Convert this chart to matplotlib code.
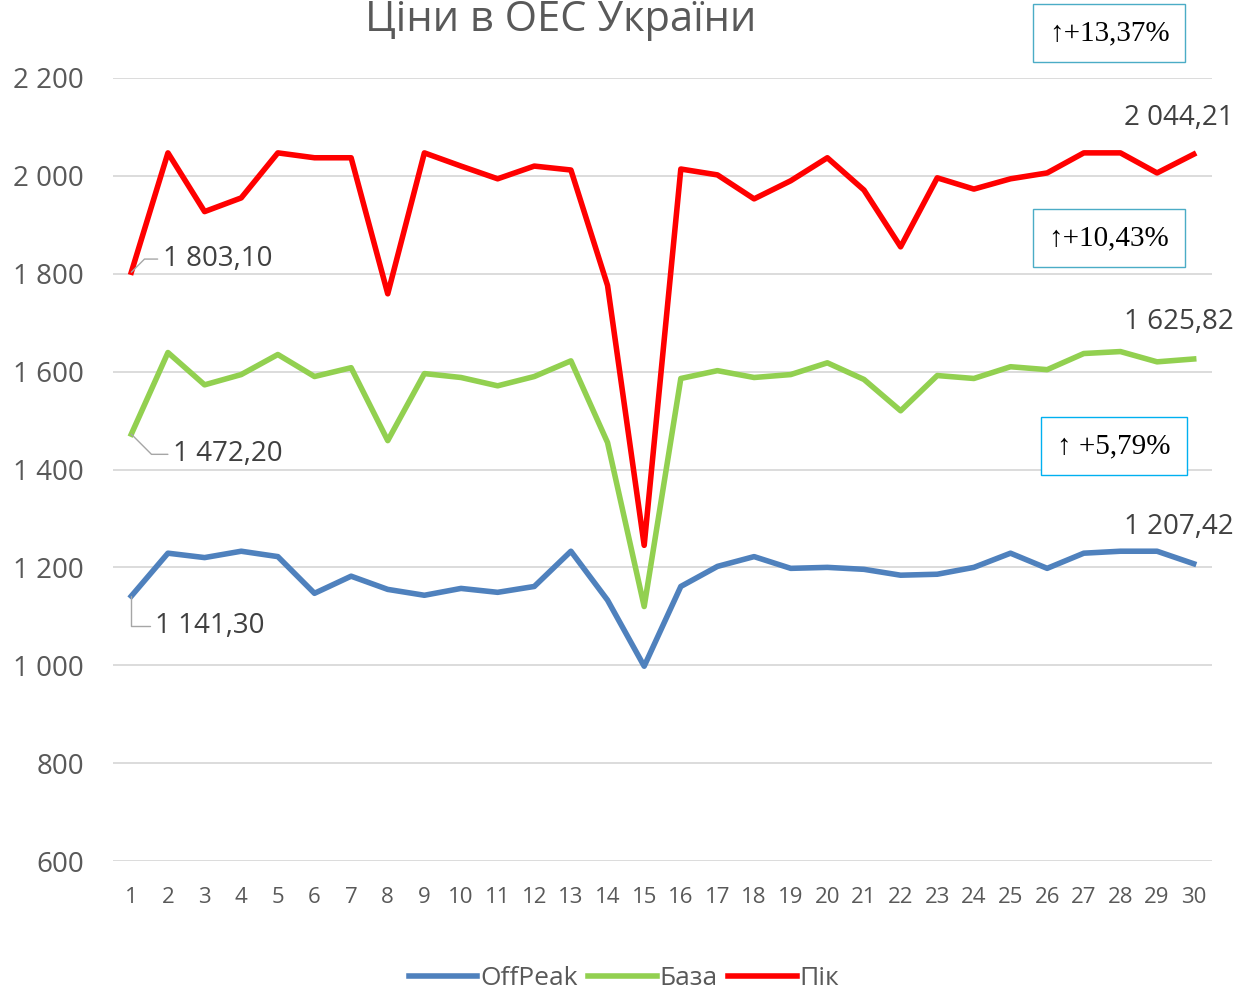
import matplotlib.pyplot as plt
import numpy as np

days = list(range(1, 31))

offpeak = [1141.30, 1229, 1220, 1233, 1222, 1147, 1182, 1155, 1143, 1157,
           1149, 1161, 1233, 1133, 998, 1161, 1202, 1222, 1198, 1200,
           1196, 1184, 1186, 1200, 1229, 1198, 1229, 1233, 1233, 1207.42]
baza = [1472.20, 1639, 1573, 1594, 1635, 1590, 1608, 1459, 1596, 1588,
        1571, 1590, 1622, 1455, 1120, 1586, 1602, 1588, 1594, 1618,
        1584, 1520, 1592, 1586, 1610, 1604, 1637, 1641, 1620, 1625.82]
pik = [1803.10, 2047, 1927, 1955, 2047, 2037, 2037, 1759, 2047, 2020,
       1994, 2020, 2012, 1776, 1245, 2014, 2002, 1953, 1990, 2037,
       1971, 1855, 1996, 1973, 1994, 2006, 2047, 2047, 2006, 2044.21]

series_names = ['OffPeak', 'База', 'Пік']
growth = ['↑+13,37%', '↑+10,43%', '↑ +5,79%']

def fmt(v):
    s = '{:,.2f}'.format(v)
    return s.replace(',', ' ').replace('.', ',')

plt.rcParams['font.family'] = ['Open Sans', 'DejaVu Sans']

fig = plt.figure(figsize=(12.4, 9.9), dpi=100)
ax = fig.add_axes([113/1240, 1 - 861/990, (1212-113)/1240, (861-78)/990])

ax.plot(days, offpeak, color='#4f81bd', lw=4, label=series_names[0], solid_joinstyle='round')
ax.plot(days, baza, color='#92d050', lw=4, label=series_names[1], solid_joinstyle='round')
ax.plot(days, pik, color='#ff0000', lw=4, label=series_names[2], solid_joinstyle='round')

ax.set_xlim(0.5, 30.5)
ax.set_ylim(600, 2200)
yt = np.arange(600, 2201, 200)
ax.set_yticks(yt)
ax.set_yticklabels([fmt(v)[:-3] for v in yt])
ax.set_xticks(days)
ax.grid(axis='y', color='#d9d9d9', lw=1.3)
ax.set_axisbelow(True)
for sp in ax.spines.values():
    sp.set_visible(False)
ax.tick_params(axis='y', length=0, labelsize=20, colors='#595959', pad=21)
ax.tick_params(axis='x', length=0, labelsize=16, colors='#595959', pad=19)

fig.text(561/1240, 1 - 20/990, 'Ціни в ОЕС України', fontsize=30, color='#595959',
         ha='center', va='center')

# first-day labels with leader lines
lab_first = [(offpeak[0], 1.65, 1080, 90), (baza[0], 2.15, 1431, -45), (pik[0], 1.87, 1830, 45)]
for v, tx, ty, ang in lab_first:
    ax.annotate(fmt(v), xy=(1, v), xytext=(tx, ty), fontsize=20, color='#404040',
                va='center', ha='left',
                arrowprops=dict(arrowstyle='-', color='#a6a6a6', lw=1,
                                connectionstyle='angle,angleA=0,angleB=%d,rad=0' % ang,
                                shrinkA=2, shrinkB=0))

# last-day labels
for v in [offpeak[-1], baza[-1], pik[-1]]:
    ax.text(31.1, v + 75, fmt(v), fontsize=20, color='#404040', ha='right', va='center',
            clip_on=False)

# growth boxes
boxes = [(1109/1240, 1 - 33/990, '#4bacc6'), (1109/1240, 1 - 238/990, '#4bacc6'),
         (1114/1240, 1 - 446/990, '#00b0f0')]
for (bx, by, ec), t in zip(boxes, growth):
    fig.text(bx, by, t, fontsize=21, family=['Liberation Serif', 'DejaVu Serif'],
             ha='center', va='center',
             bbox=dict(boxstyle='square,pad=0.55', fc='white', ec=ec, lw=1))

fig.legend(loc='lower center', bbox_to_anchor=(0.503, -0.025), ncol=3, frameon=False,
           fontsize=19, labelcolor='#595959', handlelength=2.6, columnspacing=0.4,
           handletextpad=0.1)

fig.savefig('out.png', dpi=100)
